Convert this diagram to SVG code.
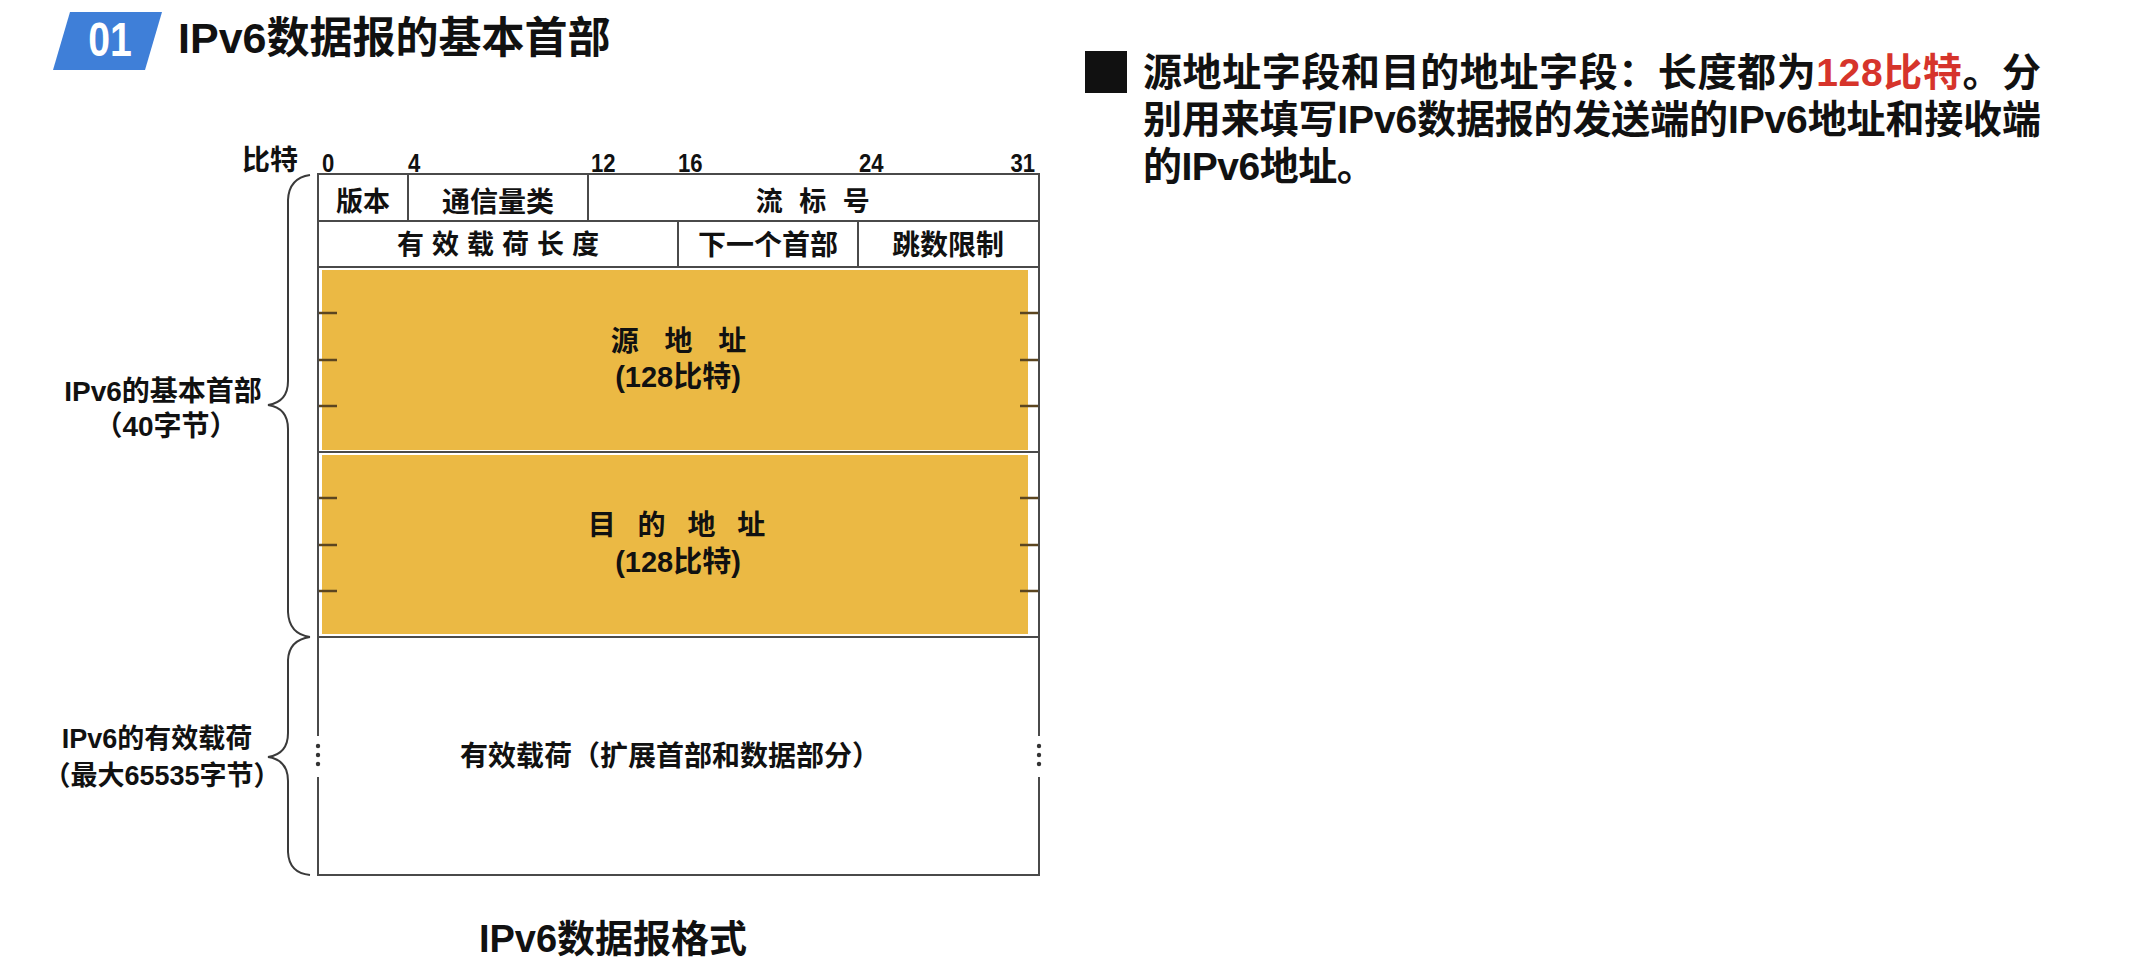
<svg xmlns="http://www.w3.org/2000/svg" width="2133" height="968" viewBox="0 0 2133 968">
<style>
.t{font-family:"Liberation Sans","Noto Sans CJK SC",sans-serif;font-weight:bold;fill:#111;}
.c{text-anchor:middle;dominant-baseline:central;}
.ln{stroke:#4a4a4a;stroke-width:2;fill:none;}
.tick{stroke:#5b4520;stroke-width:2.5;}
.br{stroke:#3a3a3a;stroke-width:2;fill:none;}
.yl{fill:#EBB944;}
.num{font-size:26px;}
</style>
<rect width="2133" height="968" fill="#ffffff"/>

<g id="title">
  <polygon points="70,12 162,12 145,70 53,70" fill="#3F7FD8"/>
  <text class="t c" x="110" y="39" font-size="49" style="fill:#fff" transform="matrix(0.8 0 0 1 22 0)">01</text>
  <text class="t" x="178" y="53" font-size="43">IPv6数据报的基本首部</text>
</g>

<g id="bit-scale">
  <text class="t c" x="270" y="160" font-size="28">比特</text>
  <text class="t num" x="322" y="172" transform="matrix(0.85 0 0 1 48.3 0)">0</text>
  <text class="t num" x="408" y="172" transform="matrix(0.85 0 0 1 61.2 0)">4</text>
  <text class="t num" x="591" y="172" transform="matrix(0.85 0 0 1 88.65 0)">12</text>
  <text class="t num" x="678" y="172" transform="matrix(0.85 0 0 1 101.7 0)">16</text>
  <text class="t num" x="859" y="172" transform="matrix(0.85 0 0 1 128.85 0)">24</text>
  <text class="t num" x="1035" y="172" text-anchor="end" transform="matrix(0.85 0 0 1 155.25 0)">31</text>
</g>

<g id="source-address">
  <rect class="yl" x="322" y="270" width="706" height="180"/>
  <line class="tick" x1="318" y1="313" x2="337" y2="313"/>
  <line class="tick" x1="318" y1="360" x2="337" y2="360"/>
  <line class="tick" x1="318" y1="406" x2="337" y2="406"/>
  <line class="tick" x1="1020" y1="313" x2="1039" y2="313"/>
  <line class="tick" x1="1020" y1="360" x2="1039" y2="360"/>
  <line class="tick" x1="1020" y1="406" x2="1039" y2="406"/>
  <text class="t c" x="683" y="341" font-size="28" letter-spacing="9">源 地 址</text>
  <text class="t c" x="678" y="377" font-size="29">(128比特)</text>
</g>

<g id="destination-address">
  <rect class="yl" x="322" y="455" width="706" height="179"/>
  <line class="tick" x1="318" y1="498" x2="337" y2="498"/>
  <line class="tick" x1="318" y1="545" x2="337" y2="545"/>
  <line class="tick" x1="318" y1="591" x2="337" y2="591"/>
  <line class="tick" x1="1020" y1="498" x2="1039" y2="498"/>
  <line class="tick" x1="1020" y1="545" x2="1039" y2="545"/>
  <line class="tick" x1="1020" y1="591" x2="1039" y2="591"/>
  <text class="t c" x="680" y="525" font-size="28" letter-spacing="7">目 的 地 址</text>
  <text class="t c" x="678" y="562" font-size="29">(128比特)</text>
</g>

<g id="table-frame">
  <line class="ln" x1="317" y1="174" x2="1040" y2="174"/>
  <line class="ln" x1="318" y1="221" x2="1039" y2="221"/>
  <line class="ln" x1="318" y1="267" x2="1039" y2="267"/>
  <line class="ln" x1="318" y1="452" x2="1039" y2="452"/>
  <line class="ln" x1="318" y1="637" x2="1039" y2="637"/>
  <line class="ln" x1="317" y1="875" x2="1040" y2="875"/>
  <line class="ln" x1="318" y1="174" x2="318" y2="736"/>
  <line class="ln" x1="318" y1="777" x2="318" y2="876"/>
  <line class="ln" x1="1039" y1="174" x2="1039" y2="736"/>
  <line class="ln" x1="1039" y1="777" x2="1039" y2="876"/>
  <line class="ln" x1="408" y1="174" x2="408" y2="221"/>
  <line class="ln" x1="588" y1="174" x2="588" y2="221"/>
  <line class="ln" x1="678" y1="221" x2="678" y2="267"/>
  <line class="ln" x1="858" y1="221" x2="858" y2="267"/>
</g>

<g id="version"><text class="t c" x="363" y="202" font-size="27">版本</text></g>
<g id="traffic-class"><text class="t c" x="498" y="202" font-size="28">通信量类</text></g>
<g id="flow-label"><text class="t c" x="815" y="202" font-size="27" letter-spacing="4.5">流 标 号</text></g>
<g id="payload-length"><text class="t c" x="502" y="245" font-size="27" letter-spacing="8">有效载荷长度</text></g>
<g id="next-header"><text class="t c" x="768" y="245" font-size="28">下一个首部</text></g>
<g id="hop-limit"><text class="t c" x="948" y="245" font-size="28">跳数限制</text></g>

<g id="payload">
  <circle cx="318" cy="746" r="2.2" fill="#333"/>
  <circle cx="318" cy="755" r="2.2" fill="#333"/>
  <circle cx="318" cy="764" r="2.2" fill="#333"/>
  <circle cx="1039" cy="746" r="2.2" fill="#333"/>
  <circle cx="1039" cy="755" r="2.2" fill="#333"/>
  <circle cx="1039" cy="764" r="2.2" fill="#333"/>
  <text class="t c" x="670" y="756" font-size="28">有效载荷（扩展首部和数据部分）</text>
</g>

<g id="braces">
  <path class="br" d="M310,175 Q289,178 288,200 L288,381 Q288,402 268,405 Q288,408 288,429 L288,612 Q289,634 310,637"/>
  <path class="br" d="M310,637 Q289,640 288,660 L288,733 Q288,754 268,757 Q288,760 288,781 L288,852 Q289,873 310,875"/>
</g>

<g id="header-label">
  <text class="t c" x="163" y="391" font-size="28">IPv6的基本首部</text>
  <text class="t c" x="166" y="426" font-size="28">（40字节）</text>
</g>
<g id="payload-label">
  <text class="t c" x="157" y="739" font-size="27">IPv6的有效载荷</text>
  <text class="t c" x="162" y="776" font-size="27">（最大65535字节）</text>
</g>

<g id="caption"><text class="t c" x="613" y="939" font-size="38">IPv6数据报格式</text></g>

<g id="note">
  <rect x="1085" y="51" width="42" height="42" fill="#111"/>
  <text class="t" x="1143" y="72" font-size="39" dominant-baseline="central" textLength="898" lengthAdjust="spacing">源地址字段和目的地址字段：长度都为<tspan style="fill:#D6342B">128比特</tspan>。分</text>
  <text class="t" x="1143" y="119" font-size="39" dominant-baseline="central" textLength="898" lengthAdjust="spacing">别用来填写IPv6数据报的发送端的IPv6地址和接收端</text>
  <text class="t" x="1143" y="166" font-size="39" dominant-baseline="central" letter-spacing="-0.5">的IPv6地址。</text>
</g>
</svg>
